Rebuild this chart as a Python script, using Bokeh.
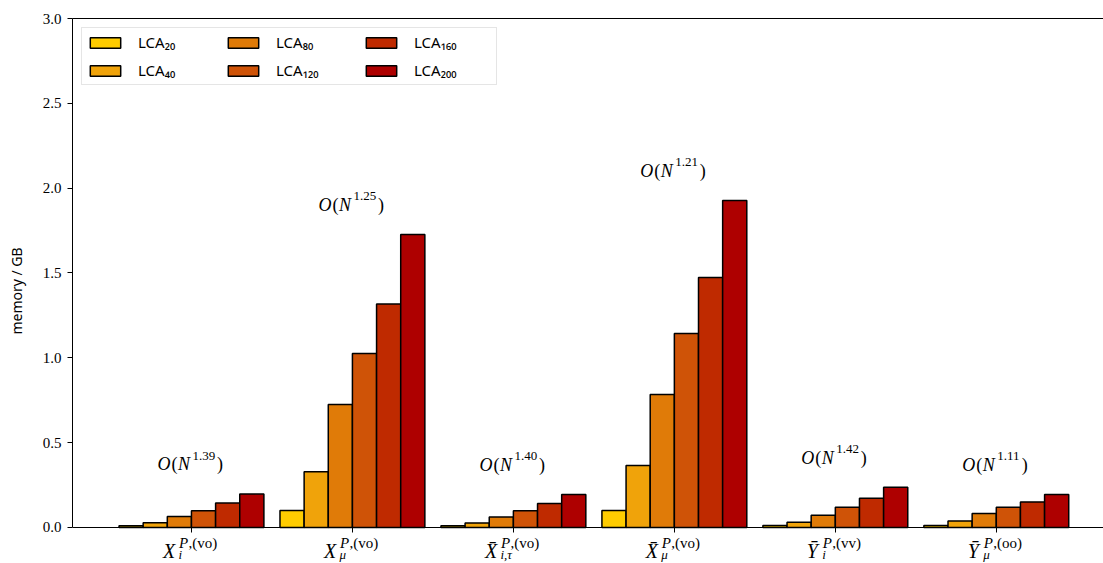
import numpy as np
from bokeh.plotting import figure
from bokeh.models import (Range1d, FixedTicker, PrintfTickFormatter, Label, Legend,
                          LegendItem, LinearAxis, ColumnDataSource)
from bokeh.transform import dodge
from bokeh.embed import file_html
from bokeh.resources import INLINE

# ---------------- data ----------------
series = ["LCA20", "LCA40", "LCA80", "LCA120", "LCA160", "LCA200"]
legend_labels = ["LCA₂₀", "LCA₄₀", "LCA₈₀", "LCA₁₂₀", "LCA₁₆₀", "LCA₂₀₀"]
colors = ["#FFCC00", "#F0A30A", "#E07B08", "#CF5307", "#BF2A00", "#AE0000"]

group_pos = [0, 1, 2, 3, 4, 5]
lca20 = [0.010, 0.100, 0.010, 0.100, 0.012, 0.012]
lca40 = [0.028, 0.328, 0.027, 0.365, 0.031, 0.039]
lca80 = [0.065, 0.725, 0.062, 0.784, 0.072, 0.082]
lca120 = [0.099, 1.025, 0.098, 1.143, 0.120, 0.120]
lca160 = [0.145, 1.318, 0.141, 1.473, 0.173, 0.151]
lca200 = [0.197, 1.727, 0.194, 1.927, 0.237, 0.195]

exponents = ["1.39", "1.25", "1.40", "1.21", "1.42", "1.11"]

tick_base = ["X", "X", "X\u0304", "X\u0304", "\u0232", "\u0232"]
tick_sub = ["i", "μ", "i,τ", "μ", "i", "μ"]
tick_sup = [",(vo)", ",(vo)", ",(vo)", ",(vo)", ",(vv)", ",(oo)"]

y_ticks = [0.0, 0.5, 1.0, 1.5, 2.0, 2.5, 3.0]

# ---------------- figure ----------------
SERIF = "Liberation Serif"
SANS = "Noto Sans"

p = figure(width=1103, height=563,
           x_range=Range1d(-0.739, 5.666), y_range=Range1d(-0.2122, 3),
           output_backend="svg", toolbar_location=None, x_axis_location=None,
           min_border_left=72, min_border_right=0, min_border_top=18,
           min_border_bottom=0)
p.xgrid.visible = False
p.ygrid.visible = False
p.outline_line_color = None
p.background_fill_color = "white"

# top spine
top_axis = LinearAxis(ticker=FixedTicker(ticks=[]),
                      major_tick_out=0, major_tick_in=0, minor_tick_out=0, minor_tick_in=0,
                      major_label_standoff=0, axis_line_color="black", axis_line_width=1)
p.add_layout(top_axis, "above")

# bottom x axis, fixed at y = 0
x_axis = LinearAxis(fixed_location=0, ticker=FixedTicker(ticks=group_pos),
                    major_label_overrides={g: "" for g in group_pos},
                    major_tick_out=5, major_tick_in=0,
                    minor_tick_line_color=None, axis_line_color="black")
p.add_layout(x_axis, "below")

# y axis
p.yaxis.ticker = FixedTicker(ticks=y_ticks)
p.yaxis.bounds = (0, 3)
p.yaxis.formatter = PrintfTickFormatter(format="%.1f")
p.yaxis.major_label_text_font = SERIF
p.yaxis.major_label_text_font_size = "15px"
p.yaxis.major_label_text_color = "black"
p.yaxis.major_tick_out = 5
p.yaxis.major_tick_in = 0
p.yaxis.major_label_standoff = 6
p.yaxis.minor_tick_line_color = None
p.yaxis.axis_label = "memory / GB"
p.yaxis.axis_label_text_font = SANS
p.yaxis.axis_label_text_font_size = "14px"
p.yaxis.axis_label_text_font_style = "normal"
p.yaxis.axis_label_text_color = "black"
p.yaxis.axis_label_standoff = 14

# ---------------- bars ----------------
data = dict(x=group_pos, LCA20=lca20, LCA40=lca40, LCA80=lca80,
            LCA120=lca120, LCA160=lca160, LCA200=lca200)
src = ColumnDataSource(data)
bw = 0.15
items = []
for k, (name, col, lab) in enumerate(zip(series, colors, legend_labels)):
    r = p.vbar(x=dodge("x", (k - 2.5) * bw), top=name, width=bw, source=src,
               fill_color=col, line_color="black", line_width=1.5)
    items.append(LegendItem(label=lab, renderers=[r]))

legend = Legend(items=items, location="top_left", orientation="vertical", nrows=2,
                glyph_width=38, glyph_height=13, label_standoff=14,
                label_width=78, label_height=18, spacing=8, padding=4, margin=9,
                label_text_font=SANS, label_text_font_size="15px",
                label_text_color="black",
                border_line_color="#cccccc", border_line_width=1,
                background_fill_alpha=0.85)
p.add_layout(legend)

# ---------------- scaling annotations ----------------
all_vals = np.array([lca20, lca40, lca80, lca120, lca160, lca200])
for i in group_pos:
    yb = float(all_vals[:, i].max()) + 0.175
    pieces = [("O", -34, 0, "18px", "italic"),
              ("(", -20, 0, "18px", "normal"),
              ("N", -13.5, 0, "18px", "italic"),
              (exponents[i], 1, 8.5, "13px", "normal"),
              (")", 25.5, 0, "18px", "normal")]
    for txt, xo, yo, fs, st in pieces:
        p.add_layout(Label(x=i, y=yb, x_offset=xo, y_offset=yo, text=txt,
                           text_font=SERIF, text_font_size=fs, text_font_style=st,
                           text_baseline="alphabetic", text_align="left",
                           text_color="black"))

# ---------------- x tick labels (math-like) ----------------
for i in group_pos:
    pieces = [(tick_base[i], -28.5, -23.5, "20px", "italic"),
              ("P", -12.5, -16, "15px", "italic"),
              (tick_sup[i], -3, -16, "15px", "normal"),
              (tick_sub[i], -13, -27.5, "13px", "italic")]
    for txt, xo, yo, fs, st in pieces:
        p.add_layout(Label(x=i, y=0, x_offset=xo, y_offset=yo, text=txt,
                           text_font=SERIF, text_font_size=fs, text_font_style=st,
                           text_baseline="alphabetic", text_align="left",
                           text_color="black"))

open("out.html", "w").write(file_html(p, INLINE))
